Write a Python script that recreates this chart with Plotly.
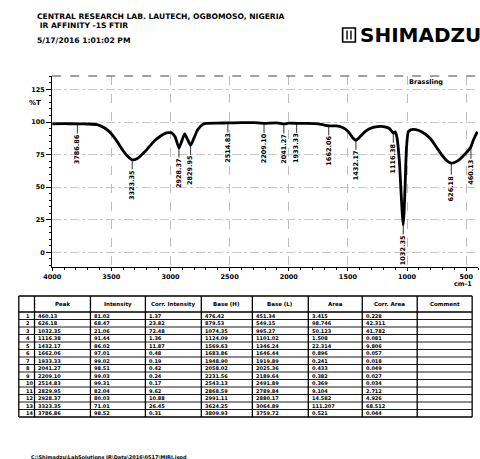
import plotly.graph_objects as go

# ---- spectrum samples (wavenumber cm-1, %T) ----
wavenumber = [4000, 3900, 3800, 3700, 3620, 3550, 3500, 3450, 3400, 3360,
              3280, 3230, 3180, 3130, 3080, 3040, 2990, 2960, 2900, 2880,
              2860, 2800, 2770, 2730, 2700, 2600, 2400, 2300, 2100, 2000,
              1850, 1750, 1700, 1600, 1550, 1500, 1460, 1400, 1350, 1300,
              1250, 1200, 1150, 1130, 1100, 1085, 1065, 1050, 1040, 1025,
              1015, 1005, 990, 970, 950, 900, 850, 800, 750, 700,
              660, 600, 560, 520, 480, 440, 420, 405]
transmittance = [98.6, 98.7, 98.6, 98.5, 98.0, 95.0, 91.0, 85.0, 78.0, 73.5,
                 72.0, 76.0, 81.0, 86.0, 89.5, 91.5, 91.8, 88.5, 86.5, 90.8,
                 87.5, 88.0, 94.0, 98.0, 99.0, 99.2, 99.5, 99.5, 99.3, 99.1,
                 99.0, 98.6, 97.6, 97.0, 96.0, 93.0, 88.0, 88.5, 93.0, 95.5,
                 96.5, 96.5, 95.0, 93.0, 92.5, 88.0, 70.0, 45.0, 29.0, 31.0,
                 55.0, 80.0, 92.5, 94.0, 94.3, 93.5, 91.0, 87.0, 80.5, 74.0,
                 70.0, 69.0, 71.0, 74.5, 78.5, 86.0, 90.0, 92.5]

# ---- peak table ----
peak_wn = [460.13, 626.18, 1032.35, 1116.38, 1432.17, 1662.06, 1933.33,
           2041.27, 2209.10, 2514.83, 2829.95, 2928.37, 3323.35, 3786.86]
peak_T = [81.02, 68.47, 21.06, 91.44, 86.02, 97.01, 99.02,
          98.51, 99.03, 99.31, 82.04, 80.03, 71.01, 98.52]
corr_intensity = ["1.37", "23.82", "72.48", "1.36", "11.87", "0.48", "0.19",
                  "0.42", "0.24", "0.17", "9.62", "10.88", "26.45", "0.31"]
base_h = ["476.42", "879.53", "1074.35", "1124.09", "1569.63", "1683.86", "1948.90",
          "2058.02", "2231.56", "2543.13", "2868.59", "2991.11", "3624.25", "3809.93"]
base_l = ["451.34", "549.15", "995.27", "1101.02", "1346.24", "1646.44", "1919.89",
          "2025.36", "2189.64", "2491.89", "2789.84", "2880.17", "3064.89", "3759.72"]
area = ["3.415", "98.746", "50.123", "1.508", "22.314", "0.896", "0.241",
        "0.433", "0.382", "0.369", "9.104", "14.582", "111.207", "0.521"]
corr_area = ["0.228", "42.311", "41.782", "0.081", "9.806", "0.057", "0.018",
             "0.049", "0.027", "0.034", "2.712", "4.926", "68.512", "0.044"]
table_header = ["", "Peak", "Intensity", "Corr. Intensity", "Base (H)",
                "Base (L)", "Area", "Corr. Area", "Comment"]

x_ticks = [4000, 3500, 3000, 2500, 2000, 1500, 1000, 500]
y_ticks = [0, 25, 50, 75, 100, 125]

W, H = 480, 459
FONT = "DejaVu Sans"


def px(x):
    return x / W


def py(y):
    return 1 - y / H


# curve points plus the peak positions themselves
pts = sorted(list(zip(wavenumber, transmittance)) + list(zip(peak_wn, peak_T)),
             key=lambda p: -p[0])
cx = [p[0] for p in pts]
cy = [p[1] for p in pts]

fig = go.Figure()
fig.add_trace(go.Scatter(
    x=cx, y=cy, mode="lines",
    line=dict(color="black", width=2.8, shape="spline", smoothing=0.5),
    hoverinfo="skip", showlegend=False))

annotations = []
shapes = []

for w, t in zip(peak_wn, peak_T):
    annotations.append(dict(
        x=w, y=t, xref="x", yref="y", text="<b>%.2f</b>" % w, textangle=-90,
        showarrow=True, arrowhead=0, arrowwidth=0.8, arrowcolor="black",
        ax=0, ay=25, font=dict(family=FONT, size=6.5, color="black"),
        borderpad=0))


def note(x, y, text, size, xanchor="left", bold=True):
    annotations.append(dict(
        x=px(x), y=py(y), xref="paper", yref="paper", showarrow=False,
        text="<b>%s</b>" % text if bold else text, xanchor=xanchor,
        yanchor="middle", font=dict(family=FONT, size=size, color="black")))


def hline(x0, x1, y, width=1.0, color="black", dash="solid"):
    shapes.append(dict(type="line", xref="paper", yref="paper",
                       x0=px(x0), x1=px(x1), y0=py(y), y1=py(y),
                       line=dict(color=color, width=width, dash=dash)))


def vline(x, y0, y1, width=1.0, color="black"):
    shapes.append(dict(type="line", xref="paper", yref="paper",
                       x0=px(x), x1=px(x), y0=py(y0), y1=py(y1),
                       line=dict(color=color, width=width)))


# page header / footer
note(27, 16, "CENTRAL RESEARCH LAB. LAUTECH, OGBOMOSO, NIGERIA", 7.6)
note(27, 26, " IR AFFINITY -1S FTIR", 7.6)
note(27, 40, "5/17/2016 1:01:02 PM", 7.6)
note(356, 35, "SHIMADZU", 20)
note(26, 103, "%T", 7, xanchor="center")
note(463, 284, "cm-1", 6.5, xanchor="center")
note(425, 82, "Brassling", 6.5, xanchor="center")
note(20, 457, "C:\\Shimadzu\\LabSolutions IR\\Data\\2016\\0517\\MIRI.ispd", 5)

# Shimadzu logo box
shapes.append(dict(type="rect", xref="paper", yref="paper",
                   x0=px(340), x1=px(353), y0=py(42), y1=py(28),
                   line=dict(color="black", width=1.6)))
vline(344.5, 39.5, 30.5, 1.4)
vline(348.5, 39.5, 30.5, 1.4)
# top border of plot
hline(44, 480, 76, 1.0, "#444", "dash")

# ---- peak table drawn as a grid ----
col_edges = [10, 26, 83, 139, 196, 248, 305, 360, 416, 472]
top, head_bottom, row_h = 296, 312, 7.5
n_rows = len(peak_wn)
bottom = head_bottom + n_rows * row_h
columns = [[str(i + 1) for i in range(n_rows)],
           ["%.2f" % v for v in peak_wn],
           ["%.2f" % v for v in peak_T],
           corr_intensity, base_h, base_l, area, corr_area,
           [""] * n_rows]

for xe in col_edges:
    vline(xe, top, bottom, 1.3)
hline(col_edges[0], col_edges[-1], top, 1.6)
hline(col_edges[0], col_edges[-1], head_bottom, 1.4)
for r in range(1, n_rows + 1):
    hline(col_edges[0], col_edges[-1], head_bottom + r * row_h,
          1.6 if r == n_rows else 0.9)

for c, name in enumerate(table_header):
    if name:
        note((col_edges[c] + col_edges[c + 1]) / 2, (top + head_bottom) / 2,
             name, 5.5, xanchor="center")
for c, col in enumerate(columns):
    for r, val in enumerate(col):
        if val:
            xpos = col_edges[c] + 2 if c else (col_edges[0] + col_edges[1]) / 2 - 3
            note(xpos, head_bottom + (r + 0.5) * row_h, val, 5)

fig.update_layout(
    width=W, height=H, margin=dict(l=0, r=0, t=0, b=0),
    paper_bgcolor="white", plot_bgcolor="white",
    showlegend=False, annotations=annotations, shapes=shapes,
    xaxis=dict(domain=[px(44), px(478)], range=[4000, 400],
               tickvals=x_ticks, ticktext=["<b>%d</b>" % v for v in x_ticks],
               tickfont=dict(family=FONT, size=6.5, color="black"),
               ticks="outside", ticklen=3, tickcolor="black",
               showline=True, linecolor="black", linewidth=1,
               showgrid=True, gridcolor="#bdbdbd", griddash="dash", gridwidth=0.8,
               zeroline=False,
               minor=dict(dtick=100, ticks="outside", ticklen=2,
                          tickcolor="black", showgrid=False)),
    yaxis=dict(domain=[py(267), py(76)], range=[-11.2, 135.3],
               tickvals=y_ticks, ticktext=["<b>%d</b>" % v for v in y_ticks],
               tickfont=dict(family=FONT, size=6.5, color="black"),
               ticks="outside", ticklen=5, tickcolor="black",
               showline=True, linecolor="black", linewidth=1,
               showgrid=True, gridcolor="#c8c8c8", griddash="dashdot", gridwidth=0.8,
               zeroline=False,
               minor=dict(dtick=5, ticks="outside", ticklen=2,
                          tickcolor="black", showgrid=False)),
)

fig.write_html("out.html")
